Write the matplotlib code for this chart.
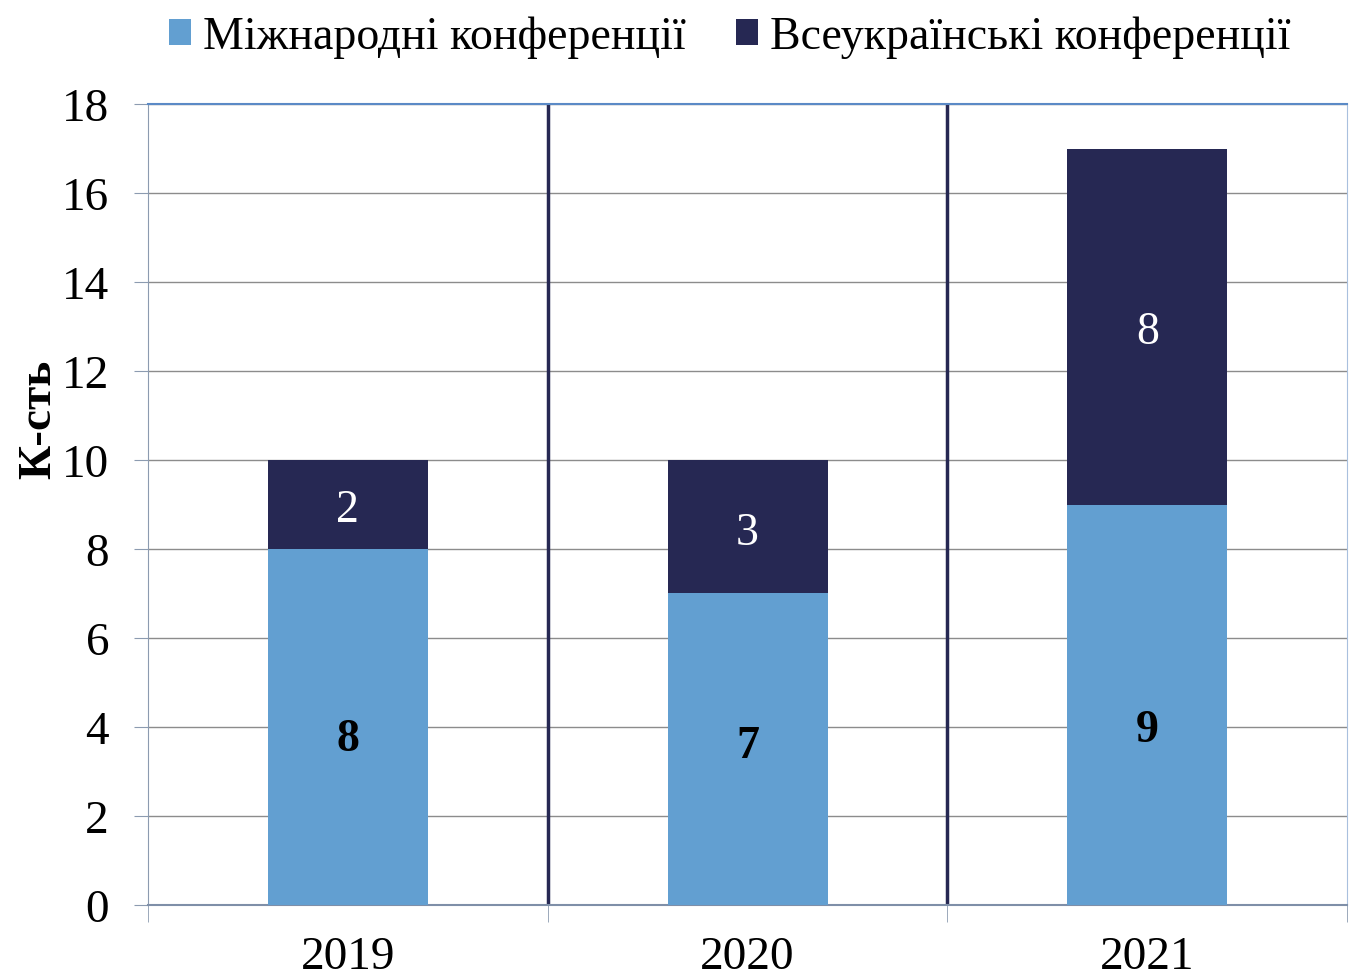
import matplotlib.pyplot as plt
import numpy as np

plt.rcParams["font.family"] = ["Liberation Serif", "DejaVu Serif"]

# data
years = ["2019", "2020", "2021"]
international = [8, 7, 9]
national = [2, 3, 8]

color_int = "#629FD1"
color_nat = "#262853"

fig = plt.figure(figsize=(13.49, 9.79), dpi=100)
ax = fig.add_axes([0.1097, 0.0746, 0.889, 0.8181])

x = np.arange(len(years))
bars1 = ax.bar(x, international, width=0.4, color=color_int, zorder=3,
               label="Міжнародні конференції")
bars2 = ax.bar(x, national, width=0.4, bottom=international, color=color_nat,
               zorder=3, label="Всеукраїнські конференції")

# value labels (bottom ones were nudged by hand in the original)
low_shift = [-9, 2, -18]
for i in range(len(years)):
    ax.annotate(str(international[i]), (x[i], international[i] / 2),
                xytext=(0, low_shift[i]), textcoords="offset points",
                ha="center", va="center", fontsize=33, fontweight="bold",
                color="black", zorder=4)
    ax.annotate(str(national[i]), (x[i], international[i] + national[i] / 2),
                xytext=(0, -4), textcoords="offset points",
                ha="center", va="center", fontsize=33, color="white", zorder=4)

ax.set_xlim(-0.5, len(years) - 0.5)
ax.set_ylim(0, 18)
ax.set_yticks(np.arange(0, 19, 2))
ax.yaxis.grid(True, color="#8C8C8C", linewidth=1, zorder=0)
ax.tick_params(axis="y", labelsize=34, length=10, color="#8C9BB0", pad=18)

# categories sit between boundary ticks
ax.set_xticks(x)
ax.set_xticklabels(years, fontsize=34)
ax.tick_params(axis="x", length=0, pad=22)
ax.set_xticks(np.arange(-0.5, len(years), 1.0), minor=True)
ax.tick_params(axis="x", which="minor", length=12, color="#8C9BB0")

for b in np.arange(0.5, len(years) - 0.5, 1.0):
    ax.axvline(b, color=color_nat, linewidth=2.5, zorder=2)

ax.spines["left"].set_color("#8C9BB0")
ax.spines["bottom"].set_color("#7F8FA8")
ax.spines["bottom"].set_linewidth(1.5)
ax.spines["top"].set_color("#5B8AC6")
ax.spines["top"].set_linewidth(1.5)
ax.spines["right"].set_color("#A9C0DE")

ax.set_ylabel("К-сть", fontsize=34, fontweight="bold")
ax.yaxis.set_label_coords(-0.073, 0.607)

fig.legend(handles=[bars1, bars2], loc="upper center", bbox_to_anchor=(0.541, 1.025),
           ncol=2, frameon=False, fontsize=33, handlelength=0.48, handleheight=0.48,
           handletextpad=0.26, columnspacing=1.1)

fig.savefig("out.png", dpi=100)
